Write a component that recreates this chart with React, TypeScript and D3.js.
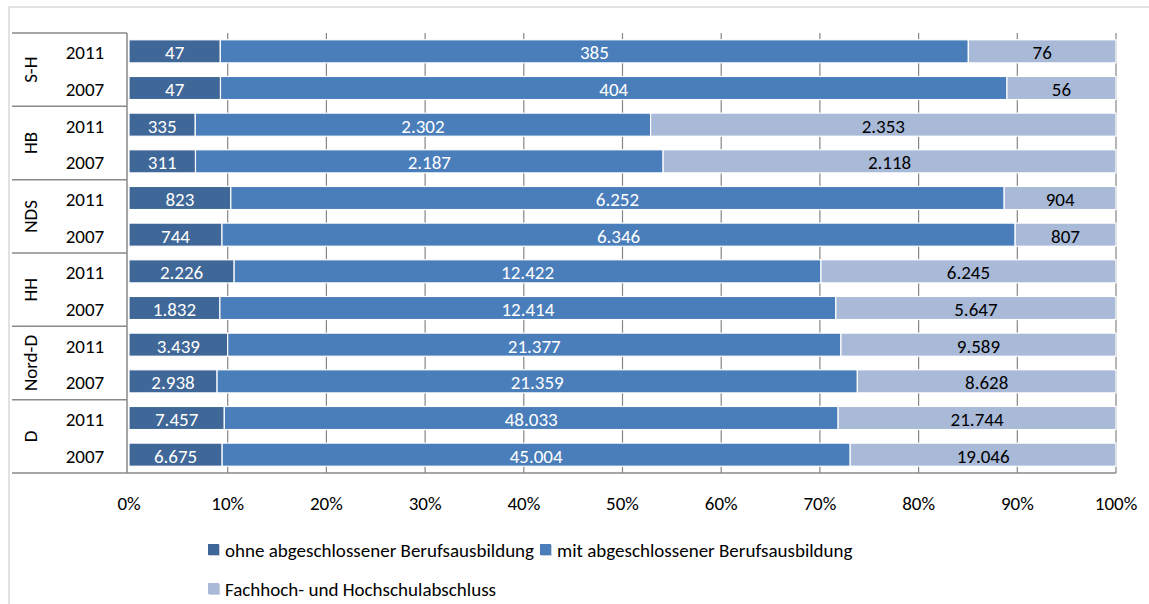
import React, { useEffect, useRef } from 'react'
import * as d3 from 'd3'

const regions = ['S-H', 'HB', 'NDS', 'HH', 'Nord-D', 'D']
const years = ['2011', '2007']
const seriesNames = [
  'ohne abgeschlossener Berufsausbildung',
  'mit abgeschlossener Berufsausbildung',
  'Fachhoch- und Hochschulabschluss',
]
const seriesColors = ['#3f6797', '#4a7ebb', '#a9bad9']
const labelColors = ['#ffffff', '#ffffff', '#000000']
// one row per region/year, order as in regions x years
const ohne = [47, 47, 335, 311, 823, 744, 2226, 1832, 3439, 2938, 7457, 6675]
const mit = [385, 404, 2302, 2187, 6252, 6346, 12422, 12414, 21377, 21359, 48033, 45004]
const fach = [76, 56, 2353, 2118, 904, 807, 6245, 5647, 9589, 8628, 21744, 19046]
const ticks = [0, 0.1, 0.2, 0.3, 0.4, 0.5, 0.6, 0.7, 0.8, 0.9, 1]

const FONT = 'Calibri, Carlito, Lato, sans-serif'
const FS = 19

export default function App() {
  const svgRef = useRef<SVGSVGElement | null>(null)

  useEffect(() => {
    if (!svgRef.current) return
    const svg = d3.select(svgRef.current)
    svg.selectAll('*').remove()

    const W = 1149
    const H = 604
    const left = 129
    const right = 1116
    const top = 33
    const bottom = 473
    const tableLeft = 12

    // outer frame
    svg.append('path')
      .attr('d', `M9,${H} L9,7 L${W},7`)
      .attr('fill', 'none').attr('stroke', '#d9d9d9').attr('stroke-width', 1.5)

    const rows = regions.flatMap(r => years.map(y => `${r}|${y}`))
    const x = d3.scaleLinear().domain([0, 1]).range([left, right])
    const y = d3.scaleBand().domain(rows).range([top, bottom]).paddingInner(0.37).paddingOuter(0.185)

    // grid lines
    svg.append('g').selectAll('line').data(ticks.slice(1)).join('line')
      .attr('x1', d => x(d)).attr('x2', d => x(d))
      .attr('y1', top).attr('y2', bottom)
      .attr('stroke', '#868686').attr('stroke-width', 1.2)

    const data = rows.map((key, i) => {
      const vals = [ohne[i], mit[i], fach[i]]
      const total = d3.sum(vals)
      let acc = 0
      return vals.map((v, s) => {
        const x0 = acc / total
        acc += v
        return { key, s, v, x0, x1: acc / total }
      })
    })

    const fmt = d3.formatLocale({ decimal: ',', thousands: '.', grouping: [3], currency: ['', '€'] }).format(',d')

    const bars = svg.append('g')
    data.flat().forEach(d => {
      bars.append('rect')
        .attr('x', x(d.x0)).attr('y', y(d.key)!)
        .attr('width', x(d.x1) - x(d.x0)).attr('height', y.bandwidth())
        .attr('fill', seriesColors[d.s])
        .attr('stroke', '#ffffff').attr('stroke-width', 1.2)
      bars.append('text')
        .attr('x', (x(d.x0) + x(d.x1)) / 2)
        .attr('y', y(d.key)! + y.bandwidth() / 2 + 8)
        .attr('text-anchor', 'middle')
        .attr('font-family', FONT).attr('font-size', FS)
        .attr('fill', labelColors[d.s])
        .text(fmt(d.v))
    })

    // category table
    const axisColor = '#898989'
    svg.append('line').attr('x1', left - 2).attr('x2', left - 2).attr('y1', top).attr('y2', bottom)
      .attr('stroke', axisColor).attr('stroke-width', 1.5)
    svg.append('line').attr('x1', tableLeft).attr('x2', right).attr('y1', bottom).attr('y2', bottom)
      .attr('stroke', axisColor).attr('stroke-width', 1.5)
    regions.forEach(r => {
      const gy0 = y(`${r}|${years[0]}`)! - (y.step() - y.bandwidth()) / 2
      const gy1 = gy0 + y.step() * years.length
      svg.append('line').attr('x1', tableLeft).attr('x2', left - 2).attr('y1', gy0).attr('y2', gy0)
        .attr('stroke', axisColor).attr('stroke-width', 1.5)
      svg.append('text')
        .attr('transform', `translate(37,${(gy0 + gy1) / 2}) rotate(-90)`)
        .attr('text-anchor', 'middle')
        .attr('font-family', FONT).attr('font-size', FS).attr('fill', '#000')
        .text(r)
      years.forEach(yr => {
        svg.append('text')
          .attr('x', 85).attr('y', y(`${r}|${yr}`)! + y.bandwidth() / 2 + 8)
          .attr('text-anchor', 'middle')
          .attr('font-family', FONT).attr('font-size', FS).attr('fill', '#000')
          .text(yr)
      })
    })

    // x tick labels
    svg.append('g').selectAll('text').data(ticks).join('text')
      .attr('x', d => x(d)).attr('y', 510)
      .attr('text-anchor', 'middle')
      .attr('font-family', FONT).attr('font-size', FS).attr('fill', '#000')
      .text(d => d3.format('.0%')(d))

    // legend
    const legendItems = [
      { i: 0, lx: 208, ly: 550 },
      { i: 1, lx: 540, ly: 550 },
      { i: 2, lx: 208, ly: 589 },
    ]
    legendItems.forEach(it => {
      svg.append('rect').attr('x', it.lx + 1).attr('y', it.ly - 5).attr('width', 11).attr('height', 11)
        .attr('fill', '#c8d0dc')
      svg.append('rect').attr('x', it.lx).attr('y', it.ly - 6).attr('width', 11).attr('height', 11)
        .attr('fill', seriesColors[it.i])
      svg.append('text').attr('x', it.lx + 17).attr('y', it.ly + 7)
        .attr('font-family', FONT).attr('font-size', FS).attr('fill', '#000')
        .text(seriesNames[it.i])
    })
  }, [])

  return (
    <svg ref={svgRef} width={1149} height={604} viewBox="0 0 1149 604"
      style={{ position: 'absolute', left: 0, top: 0, background: '#fff' }} />
  )
}
